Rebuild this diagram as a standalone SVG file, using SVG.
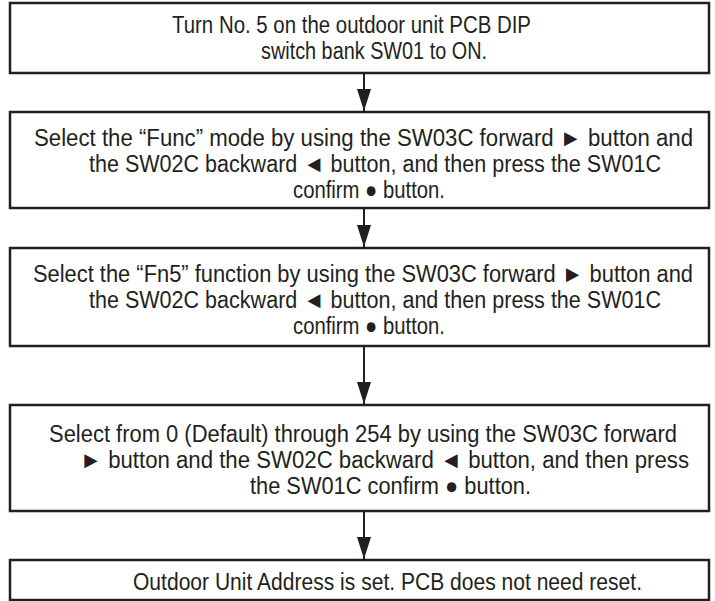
<svg xmlns="http://www.w3.org/2000/svg" width="715" height="601" viewBox="0 0 715 601">
<style>
.box{fill:#fff;stroke:#231f20;stroke-width:2.5}
.t{font-family:"Liberation Sans",Arial,sans-serif;font-size:23.5px;fill:#231f20}
.c{stroke:#231f20;stroke-width:2;fill:none}
</style>
<defs>
<marker id="ah" markerUnits="userSpaceOnUse" markerWidth="22" markerHeight="14" refX="22" refY="7" orient="auto" viewBox="0 0 22 14">
<path d="M0,0 L22,7 L0,14 Z" fill="#231f20"/>
</marker>
</defs>
<rect width="715" height="601" fill="#fff"/>
<g id="connectors">
<line class="c" x1="364" y1="73" x2="364" y2="111" marker-end="url(#ah)"/>
<line class="c" x1="364" y1="208" x2="364" y2="247" marker-end="url(#ah)"/>
<line class="c" x1="364" y1="346" x2="364" y2="404" marker-end="url(#ah)"/>
<line class="c" x1="364" y1="511" x2="364" y2="559" marker-end="url(#ah)"/>
</g>
<g id="n1">
<rect class="box" x="10" y="3" width="699" height="70"/>
<g transform="scale(0.85,1)">
<text class="t" x="202.35" y="33" textLength="422.35" lengthAdjust="spacingAndGlyphs">Turn No. 5 on the outdoor unit PCB DIP</text>
<text class="t" x="307.06" y="59" textLength="265.88" lengthAdjust="spacingAndGlyphs">switch bank SW01 to ON.</text>
</g>
</g>
<g id="n2">
<rect class="box" x="10" y="112" width="699" height="96"/>
<g transform="scale(0.85,1)">
<text class="t" x="40" y="146" textLength="775.29" lengthAdjust="spacingAndGlyphs">Select the “Func” mode by using the SW03C forward ► button and</text>
<text class="t" x="104.71" y="172" textLength="672.94" lengthAdjust="spacingAndGlyphs">the SW02C backward ◄ button, and then press the SW01C</text>
<text class="t" x="344.71" y="198" textLength="178.82" lengthAdjust="spacingAndGlyphs">confirm ● button.</text>
</g>
</g>
<g id="n3">
<rect class="box" x="10" y="248" width="699" height="98"/>
<g transform="scale(0.85,1)">
<text class="t" x="38.82" y="282" textLength="776.47" lengthAdjust="spacingAndGlyphs">Select the “Fn5” function by using the SW03C forward ► button and</text>
<text class="t" x="104.71" y="308" textLength="672.94" lengthAdjust="spacingAndGlyphs">the SW02C backward ◄ button, and then press the SW01C</text>
<text class="t" x="344.71" y="334" textLength="178.82" lengthAdjust="spacingAndGlyphs">confirm ● button.</text>
</g>
</g>
<g id="n4">
<rect class="box" x="10" y="405" width="699" height="106"/>
<g transform="scale(0.85,1)">
<text class="t" x="57.65" y="442" textLength="738.82" lengthAdjust="spacingAndGlyphs">Select from 0 (Default) through 254 by using the SW03C forward</text>
<text class="t" x="94.12" y="468" textLength="716.47" lengthAdjust="spacingAndGlyphs">► button and the SW02C backward ◄ button, and then press</text>
<text class="t" x="294.12" y="494" textLength="330.59" lengthAdjust="spacingAndGlyphs">the SW01C confirm ● button.</text>
</g>
</g>
<g id="n5">
<rect class="box" x="10" y="560" width="699" height="40"/>
<g transform="scale(0.85,1)">
<text class="t" x="156.47" y="590" textLength="598.82" lengthAdjust="spacingAndGlyphs">Outdoor Unit Address is set. PCB does not need reset.</text>
</g>
</g>
</svg>
